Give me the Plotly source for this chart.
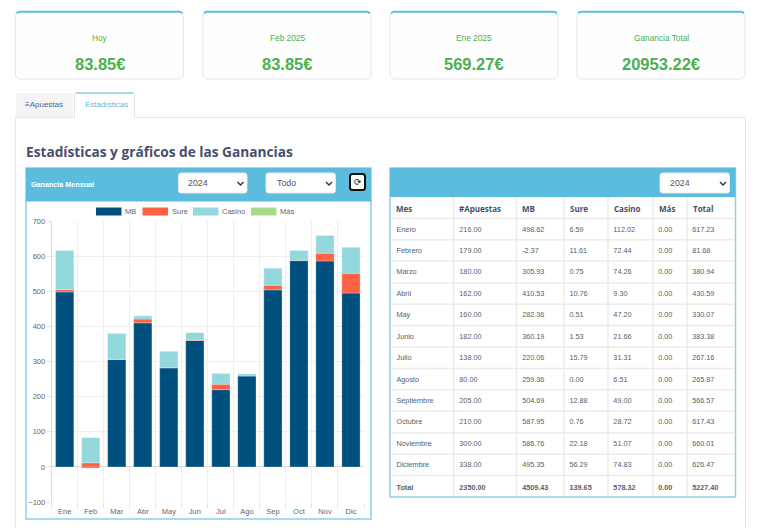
import plotly.graph_objects as go

W = 760
H = 528

# Chart data (2024)
meses_cortos = ['Ene', 'Feb', 'Mar', 'Abr', 'May', 'Jun', 'Jul', 'Ago', 'Sep', 'Oct', 'Nov', 'Dic']
mb = [498.62, -2.37, 305.93, 410.53, 282.36, 360.19, 220.06, 259.36, 504.69, 587.95, 586.76, 495.35]
sure = [6.59, 11.61, 0.75, 10.76, 0.51, 1.53, 15.79, 0.00, 12.88, 0.76, 22.18, 56.29]
casino = [112.02, 72.44, 74.26, 9.30, 47.20, 21.66, 31.31, 6.51, 49.00, 28.72, 51.07, 74.83]
mas = [0.00] * 12

# Table data
meses = ['Enero', 'Febrero', 'Marzo', 'Abril', 'May', 'Junio', 'Julio', 'Agosto', 'Septiembre',
         'Octubre', 'Noviembre', 'Diciembre']
apuestas = [216.00, 179.00, 180.00, 162.00, 160.00, 182.00, 138.00, 80.00, 205.00, 210.00, 300.00, 338.00]
totales = [617.23, 81.68, 380.94, 430.59, 330.07, 383.38, 267.16, 265.87, 566.57, 617.43, 660.01, 626.47]
fila_total = ['Total', '2350.00', '4509.43', '139.65', '578.32', '0.00', '5227.40']
cabecera = ['Mes', '#Apuestas', 'MB', 'Sure', 'Casino', 'Más', 'Total']

# Cards
card_titles = ['Hoy', 'Feb 2025', 'Ene 2025', 'Ganancia Total']
card_values = ['83.85€', '83.85€', '569.27€', '20953.22€']

series_names = ['MB', 'Sure', 'Casino', 'Más']
series_colors = ['#00507f', '#ff6145', '#93d8dc', '#a8dc8a']

BLUE = '#5bbcdd'
GREEN = '#4caf50'


def px(x):
    return x / W


def py(y):
    return 1 - y / H


def rect(x0, y0, x1, y1, fill=None, line=None, width=1, layer='below'):
    return dict(type='rect', xref='paper', yref='paper', x0=px(x0), x1=px(x1), y0=py(y0), y1=py(y1),
                fillcolor=fill or 'rgba(0,0,0,0)', line=dict(color=line or 'rgba(0,0,0,0)', width=width if line else 0),
                layer=layer)


def rounded(x0, y0, x1, y1, r, fill, line, width=1, layer='below'):
    p = (f'M {px(x0 + r)} {py(y0)} L {px(x1 - r)} {py(y0)} Q {px(x1)} {py(y0)} {px(x1)} {py(y0 + r)} '
         f'L {px(x1)} {py(y1 - r)} Q {px(x1)} {py(y1)} {px(x1 - r)} {py(y1)} '
         f'L {px(x0 + r)} {py(y1)} Q {px(x0)} {py(y1)} {px(x0)} {py(y1 - r)} '
         f'L {px(x0)} {py(y0 + r)} Q {px(x0)} {py(y0)} {px(x0 + r)} {py(y0)} Z')
    return dict(type='path', xref='paper', yref='paper', path=p, fillcolor=fill,
                line=dict(color=line, width=width), layer=layer)


def polyline(points, color, width=1, layer='above'):
    p = 'M ' + ' L '.join(f'{px(x)} {py(y)}' for x, y in points)
    return dict(type='path', xref='paper', yref='paper', path=p, line=dict(color=color, width=width), layer=layer)


def label(x, y, text, size=10, color='#444', family='Liberation Sans', anchor='left', bold=False):
    if bold:
        text = f'<b>{text}</b>'
    return dict(xref='paper', yref='paper', x=px(x), y=py(y), text=text, showarrow=False, xanchor=anchor,
                yanchor='middle', font=dict(size=size, color=color, family=family), borderpad=0, borderwidth=0)


def select_box(x0, x1, text, text_x):
    shapes.append(rounded(x0, 173, x1, 193, 2.5, 'white', '#e8e8e8', layer='below'))
    shapes.append(polyline([(x1 - 9.5, 182), (x1 - 6.5, 185), (x1 - 3.5, 182)], '#333', 1.4))
    annotations.append(label(text_x, 183, text, size=8.8, color='#555'))


shapes = []
annotations = []

# Top cards
card_lefts = [15.5, 203, 390, 577]
for left, title, value in zip(card_lefts, card_titles, card_values):
    right = left + 168
    center = (left + right) / 2
    shapes.append(rounded(left, 11.5, right, 79, 5, '#fefefe', '#e6e6e6'))
    shapes.append(polyline([(left + 1, 13), (left + 4, 11.7), (right - 4, 11.7), (right - 1, 13)], BLUE, 2))
    annotations.append(label(center, 38, title, size=8.3, color=GREEN, anchor='center'))
    annotations.append(label(center, 64, value, size=16.5, color=GREEN, anchor='center', bold=True))

# Tabs and the panel around the content
shapes.append(polyline([(15.5, 528), (15.5, 117.5), (74.5, 117.5)], '#e8e8e8'))
shapes.append(polyline([(134.5, 117.5), (745.5, 117.5), (745.5, 528)], '#e8e8e8'))
shapes.append(rect(16, 93, 73, 117, fill='#f4f4f4'))
shapes.append(polyline([(74.5, 117.5), (74.5, 94), (76, 93), (133, 93), (134.5, 94), (134.5, 117.5)], '#e4e4e4'))
shapes.append(polyline([(75.5, 93), (133.5, 93)], '#8fd0e8', 1.5))
annotations.append(label(25, 104.5, '<b>≡</b>Apuestas', size=8, color='#3d6d99'))
annotations.append(label(84.5, 104.5, 'Estadísticas', size=8, color='#5bbcdd'))
annotations.append(label(25.5, 151.5, 'Estadísticas y gráficos de las Ganancias', size=13.7, color='#47506a',
                         family='Open Sans', bold=True))

# Chart panel
shapes.append(rect(26, 168, 371, 519, fill='white', line='#a6dcee', width=2))
shapes.append(rect(26, 168, 371, 201.5, fill=BLUE))
annotations.append(label(31, 184, 'Ganancia Mensual', size=7.2, color='white', bold=True))
select_box(178.5, 247, '2024', 188.3)
select_box(266, 335.5, 'Todo', 277)
shapes.append(rounded(350, 174, 365, 190, 2.5, 'white', '#111', width=2))
annotations.append(label(357.5, 181.5, '⟳', size=9, color='#222', family='DejaVu Sans', anchor='center'))

# Legend of the chart
legend_lefts = [96, 142.5, 193, 251]
for left, name, color in zip(legend_lefts, series_names, series_colors):
    shapes.append(rect(left, 207.5, left + 25.5, 215.5, fill=color))
    annotations.append(label(left + 29, 211, name, size=7.5, color='#666'))

# Table panel
shapes.append(rect(390, 168, 735.5, 497, fill='white', line='#8fd0e8', width=1.5))
shapes.append(rect(390, 168, 735.5, 197, fill=BLUE))
select_box(660, 729.5, '2024', 670.3)

fig = go.Figure()

for name, values, color in zip(series_names, [mb, sure, casino, mas], series_colors):
    fig.add_trace(go.Bar(x=meses_cortos, y=values, name=name, marker=dict(color=color,
                         line=dict(color='rgba(255,255,255,0.25)', width=1)), showlegend=False))

columnas = [
    meses + [fila_total[0]],
    [f'{v:.2f}' for v in apuestas] + [fila_total[1]],
    [f'{v:.2f}' for v in mb] + [fila_total[2]],
    [f'{v:.2f}' for v in sure] + [fila_total[3]],
    [f'{v:.2f}' for v in casino] + [fila_total[4]],
    [f'{v:.2f}' for v in mas] + [fila_total[5]],
    [f'{v:.2f}' for v in totales] + [fila_total[6]],
]
columnas = [col[:-1] + [f'<b>{col[-1]}</b>'] for col in columnas]

col_widths = [63, 63, 47.5, 44, 45, 34, 48.5]

# Table header goes in annotations, go.Table forces a taller header row with Open Sans
fig.add_trace(go.Table(
    domain=dict(x=[px(388.5), px(733)], y=[py(497), py(202.1)]),
    columnwidth=col_widths,
    header=dict(fill_color='rgba(0,0,0,0)', line=dict(color='rgba(0,0,0,0)', width=0)),
    cells=dict(values=columnas, height=21.43, align='left',
               fill_color='rgba(0,0,0,0)', line=dict(color='rgba(0,0,0,0)', width=0),
               font=dict(size=7.25, color='#555e6e', family='Liberation Sans')),
))

# Grid of the table, under the table text
edge = 390.5
annotations.append(label(edge + 5.5, 208.3, cabecera[0], size=8, color='#47506a', family='Open Sans', bold=True))
for w, name in zip(col_widths[:-1], cabecera[1:]):
    edge += w
    shapes.append(polyline([(edge, 197), (edge, 496)], '#ececec', 1.5, layer='below'))
    annotations.append(label(edge + 5.5, 208.3, name, size=8, color='#47506a', family='Open Sans', bold=True))
for i in range(1, 14):
    y = 197 + i * 21.43
    shapes.append(polyline([(391, y), (735, y)], '#ececec', 1.5, layer='below'))

fig.update_layout(
    width=W, height=H,
    margin=dict(l=0, r=0, t=0, b=0, autoexpand=False),
    paper_bgcolor='white', plot_bgcolor='white',
    barmode='relative', bargap=0.3,
    shapes=shapes, annotations=annotations,
    xaxis=dict(domain=[px(51.7), px(364)], tickson='boundaries', ticks='outside', ticklen=5,
               tickangle=0, ticklabelstandoff=3, tickcolor='#e4e4e4', showgrid=True, gridcolor='#efefef', gridwidth=1,
               tickfont=dict(size=7.5, color='#666', family='Liberation Sans'), fixedrange=True),
    yaxis=dict(domain=[py(502), py(221.3)], range=[-100, 700], dtick=100, ticks='outside', ticklen=4,
               tickcolor='#e4e4e4', showgrid=True, gridcolor='#efefef', gridwidth=1,
               zeroline=True, zerolinecolor='#dcdcdc', zerolinewidth=1, showline=True, linecolor='#dcdcdc',
               tickfont=dict(size=7.5, color='#666', family='Liberation Sans'), fixedrange=True),
)

fig.write_html("out.html", post_script="document.body.style.margin='0';", config=dict(displayModeBar=False))
